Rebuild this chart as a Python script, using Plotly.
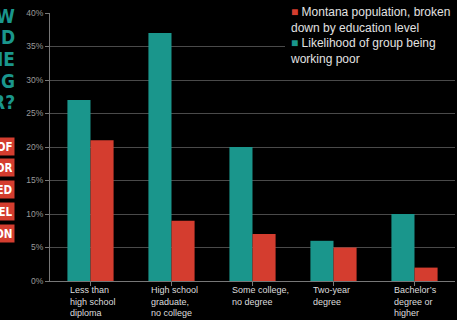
import plotly.graph_objects as go

categories = ["Less than<br>high school<br>diploma",
              "High school<br>graduate,<br>no college",
              "Some college,<br>no degree",
              "Two-year<br>degree",
              "Bachelor’s<br>degree or<br>higher"]
working_poor = [27, 37, 20, 6, 10]
population = [21, 9, 7, 5, 2]
y_ticks = [0, 5, 10, 15, 20, 25, 30, 35, 40]
y_tick_text = ["0%", "5%", "10%", "15%", "20%", "25%", "30%", "35%", "40%"]
teal_frag = ["W", "D", "IE", "G", "R?"]
red_frag = ["OF", "OR", "ED", "EL", "ON"]

TEAL = "#1a968c"
RED = "#d43d2f"
W, H = 457, 320
L, R, T, B = 50, 2, 13, 39
PW, PH = W - L - R, H - T - B


def px(x):
    return (x - L) / PW


def py(y):
    return (H - B - y) / PH


cat_ids = list(range(len(categories)))
fig = go.Figure()
fig.add_trace(go.Bar(x=cat_ids, y=working_poor, name="Likelihood of group being working poor",
                     marker=dict(color=TEAL, line=dict(width=0))))
fig.add_trace(go.Bar(x=cat_ids, y=population, name="Montana population, broken down by education level",
                     marker=dict(color=RED, line=dict(width=0))))

ann = []
for i, c in enumerate(categories):
    ann.append(dict(x=i, xref="x", xshift=-23, y=0, yref="paper", yshift=-2,
                    xanchor="left", yanchor="top", align="left", showarrow=False,
                    text=c, font=dict(size=9, color="#dddddd")))

for k, t in enumerate(teal_frag):
    yc = 16 + 21.5 * k
    ann.append(dict(x=px(17), y=py(yc), xref="paper", yref="paper", xanchor="right",
                    yanchor="middle", showarrow=False, text="<b>%s</b>" % t,
                    font=dict(size=19, color=TEAL, family="DejaVu Sans Condensed, Liberation Sans")))
for k, t in enumerate(red_frag):
    yc = 146 + 21.8 * k
    ann.append(dict(x=px(15), y=py(yc), xref="paper", yref="paper", xanchor="right",
                    yanchor="middle", showarrow=False, text="<b>%s</b>" % t, width=26,
                    align="right", bgcolor=RED, borderpad=1.5,
                    font=dict(size=11.5, color="white", family="DejaVu Sans Condensed, Liberation Sans")))

legend_text = ('<span style="color:%s">■</span> Montana population, broken<br>'
               'down by education level<br>'
               '<span style="color:%s">■</span> Likelihood of group being<br>'
               'working poor') % (RED, TEAL)
ann.append(dict(x=px(288), y=py(3), xref="paper", yref="paper", xanchor="left", yanchor="top",
                align="left", showarrow=False, text=legend_text,
                font=dict(size=12, color="#e2e2e2")))

fig.update_layout(
    width=W, height=H, margin=dict(l=L, r=R, t=T, b=B),
    paper_bgcolor="#000000", plot_bgcolor="#000000",
    barmode="group", bargap=0.43, bargroupgap=0, showlegend=False,
    font=dict(family="Liberation Sans, Arial", color="#dddddd"),
    annotations=ann,
    shapes=[dict(type="rect", xref="paper", yref="paper", x0=px(285), x1=1.02,
                 y0=py(68), y1=1.06, fillcolor="#000000", line=dict(width=0), layer="above")],
    xaxis=dict(range=[-0.5, 4.5], showticklabels=False, tickmode="array", tickvals=cat_ids,
               ticks="outside", tickson="boundaries", ticklen=4, tickcolor="#777777",
               showline=True, linecolor="#777777", linewidth=1, showgrid=False, zeroline=False,
               fixedrange=True),
    yaxis=dict(range=[0, 40], tickmode="array", tickvals=y_ticks, ticktext=y_tick_text,
               ticks="outside", ticklen=4,
               tickcolor="#777777", showline=True, linecolor="#777777", linewidth=1,
               gridcolor="#4a4a4a", gridwidth=1, zeroline=False,
               tickfont=dict(size=8.5, color="#9a9a9a"), fixedrange=True),
)

fig.write_html("out.html")
